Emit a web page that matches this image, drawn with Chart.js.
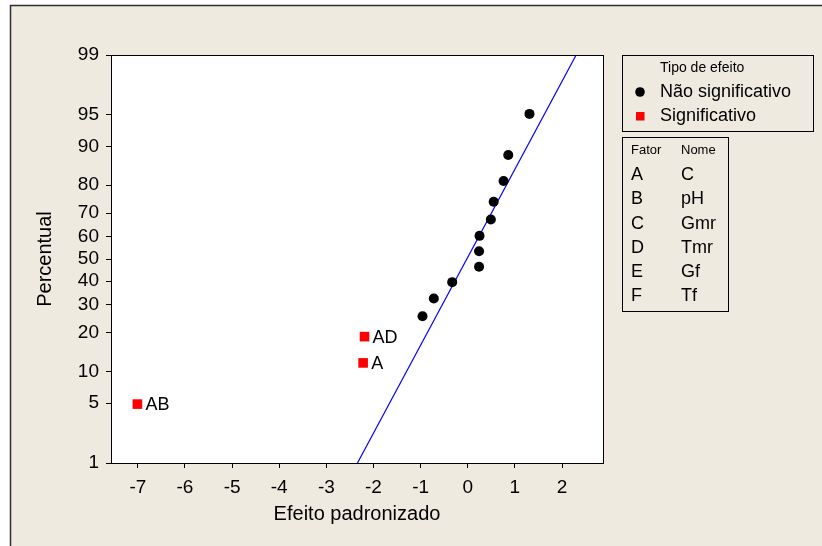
<!DOCTYPE html>
<html>
<head>
<meta charset="utf-8">
<script src="https://cdn.jsdelivr.net/npm/chart.js@4/dist/chart.umd.min.js"></script>
<style>
  html, body { margin: 0; padding: 0; background: #ffffff; }
  #wrap { width: 822px; height: 546px; position: relative; }
</style>
</head>
<body>
<div id="wrap"><canvas id="c" width="822" height="546"></canvas></div>
<script>
// Standardized effects and their normal-probability percentiles
const SIG_NAMES   = ['AB', 'A', 'AD'];
const SIG_EFFECT  = [-7.01, -2.22, -2.19];
const SIG_PCT     = [4.9, 11.8, 18.8];

const NS_EFFECT   = [-0.96, -0.72, -0.33, 0.24, 0.24, 0.25, 0.49, 0.55, 0.76, 0.86, 1.31];
const NS_PCT      = [25.7, 32.6, 39.6, 46.5, 53.5, 60.4, 67.4, 74.3, 81.3, 88.2, 95.1];

// Reference line for the effects
const FIT_EFFECT  = [-2.34, 2.30];
const FIT_PCT     = [1, 99];

// Axis ticks
const X_TICKS = [-7, -6, -5, -4, -3, -2, -1, 0, 1, 2];
const Y_TICKS = [1, 5, 10, 20, 30, 40, 50, 60, 70, 80, 90, 95, 99];

// Factor table
const FACTORS = ['A', 'B', 'C', 'D', 'E', 'F'];
const FACTOR_NAMES = ['C', 'pH', 'Gmr', 'Tmr', 'Gf', 'Tf'];

const FONT = '"Liberation Sans", Arial, sans-serif';

// Inverse of the standard normal CDF (Acklam's rational approximation)
function probit(p) {
  const a = [-3.969683028665376e+01, 2.209460984245205e+02, -2.759285104469687e+02,
             1.383577518672690e+02, -3.066479806614716e+01, 2.506628277459239e+00];
  const b = [-5.447609879822406e+01, 1.615858368580409e+02, -1.556989798598866e+02,
             6.680131188771972e+01, -1.328068155288572e+01];
  const c = [-7.784894002430293e-03, -3.223964580411365e-01, -2.400758277161838e+00,
             -2.549732539343734e+00, 4.374664141464968e+00, 2.938163982698783e+00];
  const d = [7.784695709041462e-03, 3.224671290700398e-01, 2.445134137142996e+00,
             3.754408661907416e+00];
  const pl = 0.02425, ph = 1 - pl;
  let q, r;
  if (p < pl) {
    q = Math.sqrt(-2 * Math.log(p));
    return (((((c[0]*q+c[1])*q+c[2])*q+c[3])*q+c[4])*q+c[5]) / ((((d[0]*q+d[1])*q+d[2])*q+d[3])*q+1);
  } else if (p <= ph) {
    q = p - 0.5; r = q * q;
    return (((((a[0]*r+a[1])*r+a[2])*r+a[3])*r+a[4])*r+a[5])*q / (((((b[0]*r+b[1])*r+b[2])*r+b[3])*r+b[4])*r+1);
  } else {
    q = Math.sqrt(-2 * Math.log(1 - p));
    return -(((((c[0]*q+c[1])*q+c[2])*q+c[3])*q+c[4])*q+c[5]) / ((((d[0]*q+d[1])*q+d[2])*q+d[3])*q+1);
  }
}
function normCdf(z) {
  // bisection inverse of probit, only used for pixel -> value
  let lo = 1e-6, hi = 1 - 1e-6;
  for (let i = 0; i < 60; i++) {
    const mid = (lo + hi) / 2;
    if (probit(mid) < z) lo = mid; else hi = mid;
  }
  return (lo + hi) / 2;
}

// Normal probability (percent) scale
class ProbabilityScale extends Chart.LinearScale {
  static id = 'probability';
  determineDataLimits() {
    this.min = probit(this.options.min / 100);
    this.max = probit(this.options.max / 100);
  }
  buildTicks() {
    return Y_TICKS.map(v => ({ value: v }));
  }
  getPixelForValue(v) {
    return this.getPixelForDecimal((probit(v / 100) - this.min) / (this.max - this.min));
  }
  getValueForPixel(px) {
    const z = this.min + this.getDecimalForPixel(px) * (this.max - this.min);
    return normCdf(z) * 100;
  }
  getLabelForValue(v) { return String(v); }
}
Chart.register(ProbabilityScale);

const toPoints = (xs, ys) => xs.map((x, i) => ({ x: x, y: ys[i] }));

const framePlugin = {
  id: 'frame',
  beforeDraw(chart) {
    const ctx = chart.ctx;
    const a = chart.chartArea;
    ctx.save();
    ctx.fillStyle = '#ffffff';
    ctx.fillRect(0, 0, chart.width, chart.height);
    ctx.fillStyle = '#eeeae0';
    ctx.fillRect(10, 5, chart.width - 10, chart.height - 5);
    ctx.strokeStyle = '#2e2e2e';
    ctx.lineWidth = 1.5;
    ctx.beginPath();
    ctx.moveTo(10.5, chart.height);
    ctx.lineTo(10.5, 5.5);
    ctx.lineTo(chart.width, 5.5);
    ctx.stroke();
    ctx.fillStyle = '#ffffff';
    ctx.fillRect(a.left, a.top, a.right - a.left, a.bottom - a.top);
    ctx.restore();
  },
  afterDraw(chart) {
    const ctx = chart.ctx;
    const a = chart.chartArea;
    ctx.save();
    ctx.strokeStyle = '#000000';
    ctx.lineWidth = 1;
    ctx.strokeRect(Math.round(a.left) + 0.5, Math.round(a.top) + 0.5,
                   Math.round(a.right - a.left), Math.round(a.bottom - a.top));

    // labels of the significant effects
    const meta = chart.getDatasetMeta(1);
    ctx.fillStyle = '#000000';
    ctx.font = '18px ' + FONT;
    ctx.textAlign = 'left';
    ctx.textBaseline = 'middle';
    meta.data.forEach((pt, i) => {
      ctx.fillText(SIG_NAMES[i], pt.x + 8, pt.y + 1);
    });

    // effect type legend
    ctx.strokeRect(622.5, 55.5, 191, 76);
    ctx.font = '14px ' + FONT;
    ctx.fillText('Tipo de efeito', 660, 68);
    ctx.font = '18px ' + FONT;
    ctx.beginPath();
    ctx.arc(640, 92, 4.8, 0, Math.PI * 2);
    ctx.fill();
    ctx.fillText('Não significativo', 660, 92);
    ctx.fillStyle = '#ff0000';
    ctx.fillRect(636, 112, 8.5, 8.5);
    ctx.fillStyle = '#000000';
    ctx.fillText('Significativo', 660, 116);

    // factor table
    ctx.strokeRect(622.5, 137.5, 106, 174);
    ctx.font = '13px ' + FONT;
    ctx.fillText('Fator', 631, 150);
    ctx.fillText('Nome', 681, 150);
    ctx.font = '18px ' + FONT;
    FACTORS.forEach((f, i) => {
      const y = 175 + i * 24.3;
      ctx.fillText(f, 631, y);
      ctx.fillText(FACTOR_NAMES[i], 681, y);
    });
    ctx.restore();
  }
};

new Chart(document.getElementById('c'), {
  type: 'scatter',
  data: {
    datasets: [
      {
        label: 'Não significativo',
        data: toPoints(NS_EFFECT, NS_PCT),
        pointStyle: 'circle',
        pointRadius: 5,
        pointBorderWidth: 0,
        backgroundColor: '#000000',
        borderColor: '#000000'
      },
      {
        label: 'Significativo',
        data: toPoints(SIG_EFFECT, SIG_PCT),
        pointStyle: 'rect',
        pointRadius: 6.8,
        pointBorderWidth: 0,
        backgroundColor: '#ff0000',
        borderColor: '#ff0000'
      },
      {
        type: 'line',
        label: 'Reta',
        data: toPoints(FIT_EFFECT, FIT_PCT),
        borderColor: '#0000ff',
        borderWidth: 1.2,
        pointRadius: 0,
        fill: false
      }
    ]
  },
  options: {
    responsive: false,
    animation: false,
    events: [],
    layout: { padding: { top: 55, right: 219, left: 0, bottom: 0 } },
    plugins: {
      legend: { display: false },
      tooltip: { enabled: false }
    },
    scales: {
      x: {
        type: 'linear',
        min: -7.57,
        max: 2.87,
        afterFit(scale) { scale.height = 83; },
        afterBuildTicks(scale) { scale.ticks = X_TICKS.map(v => ({ value: v })); },
        grid: { drawOnChartArea: false, drawTicks: true, tickLength: 5, color: '#000000' },
        border: { display: true, color: '#000000', width: 1 },
        ticks: {
          color: '#000000',
          font: { family: FONT, size: 19 },
          padding: 8,
          maxRotation: 0,
          autoSkip: false,
          callback: v => String(v)
        },
        title: {
          display: true,
          text: 'Efeito padronizado',
          color: '#000000',
          font: { family: FONT, size: 20 },
          padding: { top: 0, bottom: 20 }
        }
      },
      y: {
        type: 'probability',
        min: 1,
        max: 99,
        afterFit(scale) { scale.width = 111; },
        grid: { drawOnChartArea: false, drawTicks: true, tickLength: 5, color: '#000000' },
        border: { display: true, color: '#000000', width: 1 },
        ticks: {
          color: '#000000',
          font: { family: FONT, size: 19 },
          padding: 7,
          autoSkip: false,
          callback: v => String(v)
        },
        title: {
          display: true,
          text: 'Percentual',
          color: '#000000',
          font: { family: FONT, size: 20 },
          padding: { top: 33, bottom: 0 }
        }
      }
    }
  },
  plugins: [framePlugin]
});
</script>
</body>
</html>
